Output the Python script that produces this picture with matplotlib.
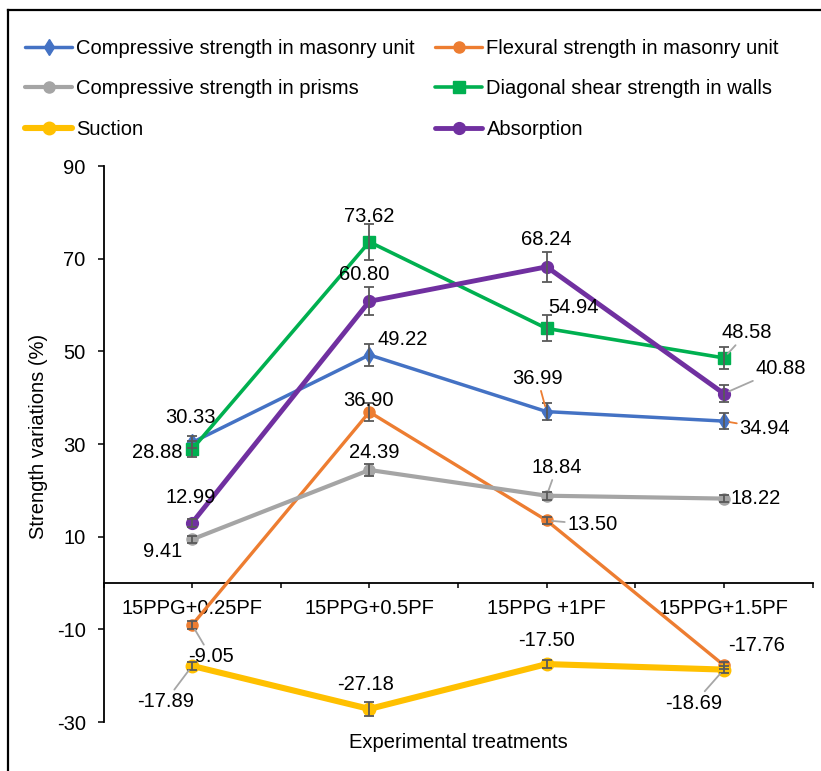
import matplotlib
matplotlib.use('Agg')
import matplotlib.pyplot as plt
from matplotlib.lines import Line2D

plt.rcParams['font.family'] = ['Liberation Sans', 'DejaVu Sans']
plt.rcParams['axes.unicode_minus'] = False

# ---------------- data ----------------
categories = ['15PPG+0.25PF', '15PPG+0.5PF', '15PPG +1PF', '15PPG+1.5PF']
comp_unit = [30.33, 49.22, 36.99, 34.94]
flex_unit = [-9.05, 36.90, 13.50, -17.76]
comp_prism = [9.41, 24.39, 18.84, 18.22]
shear_wall = [28.88, 73.62, 54.94, 48.58]
suction = [-17.89, -27.18, -17.50, -18.69]
absorption = [12.99, 60.80, 68.24, 40.88]

err_comp_unit = [1.3, 2.4, 1.9, 1.7]
err_flex_unit = [0.8, 1.9, 0.8, 0.8]
err_comp_prism = [0.8, 1.4, 0.9, 0.8]
err_shear_wall = [1.7, 3.8, 2.8, 2.4]
err_suction = [0.8, 1.5, 0.8, 0.8]
err_absorption = [0.8, 3.0, 3.3, 1.9]

names = ['Compressive strength in masonry unit', 'Flexural strength in masonry unit',
         'Compressive strength in prisms', 'Diagonal shear strength in walls',
         'Suction', 'Absorption']
values = [comp_unit, flex_unit, comp_prism, shear_wall, suction, absorption]
errors = [err_comp_unit, err_flex_unit, err_comp_prism, err_shear_wall, err_suction, err_absorption]

# ---------------- styles ----------------
colors = ['#4472C4', '#ED7D31', '#A5A5A5', '#00B050', '#FFC000', '#7030A0']
markers = ['d', 'o', 'o', 's', 'o', 'o']
msizes = [8.5, 8, 8, 8.5, 9, 8.5]
lwidths = [2.5, 2.4, 3.0, 2.6, 4.4, 3.5]

# label offsets in pixels (dx, dy up) and leader colour (None = no leader)
label_style = [
    [((-2, 25), None), ((33, 15), None), ((-9, 33), '#ED7D31'), ((41, -7), '#ED7D31')],
    [((19, -32), '#A6A6A6'), ((-1, 12), None), ((46, -4), '#A6A6A6'), ((33, 20), None)],
    [((-30, -12), None), ((5, 17), None), ((10, 28), '#A6A6A6'), ((32, 0), None)],
    [((-35, -3), None), ((0, 25), None), ((27, 21), None), ((23, 25), '#A6A6A6')],
    [((-27, -36), '#A6A6A6'), ((-4, 24), None), ((0, 24), None), ((-30, -34), '#A6A6A6')],
    [((-1, 25), None), ((-5, 27), None), ((0, 27), None), ((57, 25), '#A6A6A6')],
]

W, H = 821, 771
fig = plt.figure(figsize=(W / 100, H / 100), dpi=100)
ax = fig.add_axes([103.5 / W, 1 - 722 / H, (812.5 - 103.5) / W, (722 - 166) / H])

FS = 14.5
x = list(range(len(categories)))
handles = []
for i, (vals, errs) in enumerate(zip(values, errors)):
    ln, = ax.plot(x, vals, color=colors[i], lw=lwidths[i], marker=markers[i],
                  ms=msizes[i], mfc=colors[i], mec=colors[i], zorder=3 + i,
                  solid_capstyle='round', label=names[i])
    handles.append(ln)
    ax.errorbar(x, vals, yerr=errs, fmt='none', ecolor='#595959', elinewidth=1.3,
                capsize=3.5, capthick=1.3, zorder=10)
    for j, v in enumerate(vals):
        (dx, dy), lc = label_style[i][j]
        kw = {}
        if lc is not None:
            kw['arrowprops'] = dict(arrowstyle='-', color=lc, lw=1.3,
                                    shrinkA=0, shrinkB=4)
        ax.annotate(f'{v:.2f}', xy=(j, v), xytext=(dx, dy), textcoords='offset pixels',
                    ha='center', va='center', fontsize=FS, color='black',
                    zorder=12, **kw)

ax.set_xlim(-0.5, 3.5)
ax.set_ylim(-30, 90)
ax.set_yticks(range(-30, 91, 20))
ax.set_xticks(x)
ax.set_xticklabels(categories)
ax.set_xticks([k - 0.5 for k in range(len(categories) + 1)], minor=True)

for s in ['top', 'right']:
    ax.spines[s].set_visible(False)
ax.spines['bottom'].set_position(('data', 0))
ax.spines['left'].set_linewidth(1.3)
ax.spines['bottom'].set_linewidth(1.3)
ax.tick_params(axis='y', direction='out', length=4.3, width=1.1, pad=8.5,
               labelsize=FS, colors='black')
ax.tick_params(axis='x', which='both', direction='out', length=3.6, width=1.1,
               pad=8, labelsize=FS)

fig.text(38 / W, 1 - 436 / H, 'Strength variations (%)', rotation=90,
         ha='center', va='center', fontsize=FS)
fig.text(458 / W, 1 - 742 / H, 'Experimental treatments', ha='center',
         va='center', fontsize=FS)

order = [0, 2, 4, 1, 3, 5]
leg = fig.legend([handles[k] for k in order], [names[k] for k in order], ncol=2,
                 loc='upper left', bbox_to_anchor=(25 / W, 1 - 39 / H),
                 frameon=False, fontsize=FS, handlelength=2.35, handletextpad=0.2,
                 columnspacing=1.0, labelspacing=1.06, borderpad=0, borderaxespad=0)

# figure border
fig.add_artist(Line2D([8 / W, 8 / W], [-0.05, 1 - 10 / H], color='black', lw=1.6,
                      transform=fig.transFigure))
fig.add_artist(Line2D([8 / W, 1.05], [1 - 10 / H, 1 - 10 / H], color='black', lw=1.6,
                      transform=fig.transFigure))

fig.savefig('out.png', dpi=100)
